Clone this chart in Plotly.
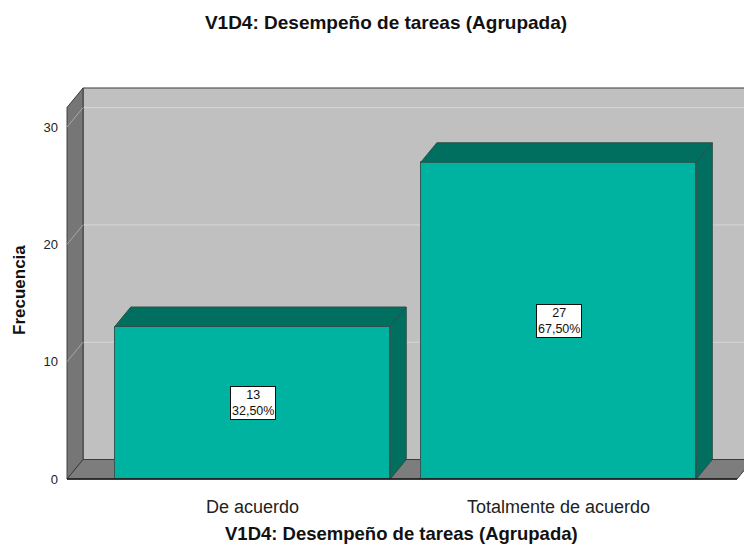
import plotly.graph_objects as go

# ---- data ----
categories = ["De acuerdo", "Totalmente de acuerdo"]
counts = [13, 27]
y_ticks = [0, 10, 20, 30]
title_text = "V1D4: Desempeño de tareas (Agrupada)"
y_title = "Frecuencia"

total = sum(counts)
pct_labels = [f"{c}<br>{c / total * 100:.2f}%".replace(".", ",") for c in counts]

# ---- styling / geometry ----
FONT = "Liberation Sans, Arial, sans-serif"
FRONT = "#00b3a0"
DARK = "#006f5f"
WALL_BACK = "#c0c0c0"
WALL_LEFT = "#767676"
FLOOR = "#7d7d7d"
EDGE = "#3c3c3c"
BAR_W = 0.9
DX = 0.0523   # depth offset in x data units
DY = 1.66     # depth offset in y data units

OFF = 8  # page body margin
W, H = 752 - OFF, 545 - OFF
ML, MR, MT, MB = 60 - OFF, 0, 84 - OFF, 60
XR = [-0.629, 1.632]
YR = [-0.51, 33.67]
X0 = -0.606          # front-left wall edge
XF = 1.583           # front-right floor edge
YTOP = 33.33         # top of back wall
XMAX = XR[1] + 0.2

xs = list(range(len(categories)))

fig = go.Figure()

# bar front faces
fig.add_trace(go.Bar(
    x=xs, y=counts, width=BAR_W,
    marker=dict(color=FRONT, line=dict(color="#2e5a54", width=1)),
    hoverinfo="skip", showlegend=False,
))

# bar top and side faces (from data)
for x, v in zip(xs, counts):
    l, r = x - BAR_W / 2, x + BAR_W / 2
    fig.add_trace(go.Scatter(
        x=[l, l + DX, r + DX, r, l], y=[v, v + DY, v + DY, v, v],
        mode="lines", fill="toself", fillcolor=DARK,
        line=dict(color="#2e4f4a", width=1), hoverinfo="skip", showlegend=False,
    ))
    fig.add_trace(go.Scatter(
        x=[r, r + DX, r + DX, r, r], y=[v, v + DY, DY, 0, v],
        mode="lines", fill="toself", fillcolor=DARK,
        line=dict(color="#2e4f4a", width=1), hoverinfo="skip", showlegend=False,
    ))

shapes = []
# back wall
shapes.append(dict(type="path", layer="below", xref="x", yref="y",
                   path=f"M {X0+DX},{DY} L {X0+DX},{YTOP} L {XMAX},{YTOP} L {XMAX},{DY} Z",
                   fillcolor=WALL_BACK, line=dict(color=EDGE, width=1)))
# back gridlines
for t in y_ticks[1:]:
    shapes.append(dict(type="line", layer="below", xref="x", yref="y",
                       x0=X0 + DX, x1=XMAX, y0=t + DY, y1=t + DY,
                       line=dict(color="#d6d6d6", width=1)))
# left wall
shapes.append(dict(type="path", layer="below", xref="x", yref="y",
                   path=f"M {X0},0 L {X0+DX},{DY} L {X0+DX},{YTOP} L {X0},{YTOP-DY} Z",
                   fillcolor=WALL_LEFT, line=dict(color=EDGE, width=1)))
for t in y_ticks[1:]:
    shapes.append(dict(type="line", layer="below", xref="x", yref="y",
                       x0=X0, x1=X0 + DX, y0=t, y1=t + DY,
                       line=dict(color="#a8a8a8", width=1)))
# floor
shapes.append(dict(type="path", layer="below", xref="x", yref="y",
                   path=f"M {X0},0 L {XF},0 L {XF+DX},{DY} L {X0+DX},{DY} Z",
                   fillcolor=FLOOR, line=dict(color=EDGE, width=1)))
# floor front edge
shapes.append(dict(type="line", layer="above", xref="x", yref="y",
                   x0=X0, x1=XF, y0=0, y1=0, line=dict(color="#1a1a1a", width=1.5)))

annotations = []
for x, v, lab in zip(xs, counts, pct_labels):
    annotations.append(dict(x=x, y=v / 2, xref="x", yref="y", text=lab, showarrow=False,
                            font=dict(family=FONT, size=12.5, color="#111"),
                            bgcolor="white", bordercolor="#111", borderwidth=1, borderpad=1))

pw = W - ML - MR
ph = H - MT - MB
annotations.append(dict(text=f"<b>{title_text}</b>", xref="paper", yref="paper",
                        x=(401 - OFF - ML) / pw, y=(H - MB - (533 - OFF)) / ph, showarrow=False,
                        xanchor="center", yanchor="middle",
                        font=dict(family=FONT, size=18.5, color="#111")))
annotations.append(dict(text=f"<b>{y_title}</b>", xref="paper", yref="paper",
                        x=(19 - OFF - ML) / pw, y=(H - MB - (290 - OFF)) / ph, showarrow=False,
                        textangle=-90, xanchor="center", yanchor="middle",
                        font=dict(family=FONT, size=17, color="#111")))

fig.update_layout(
    width=W, height=H,
    margin=dict(l=ML, r=MR, t=MT, b=MB),
    paper_bgcolor="white", plot_bgcolor="white",
    title=dict(text=f"<b>{title_text}</b>", x=(386 - OFF) / W, xanchor="center",
               y=1 - (22 - OFF) / H, yanchor="middle", yref="container",
               font=dict(family=FONT, size=19, color="#111")),
    xaxis=dict(range=XR, tickvals=xs, ticktext=categories, showgrid=False,
               zeroline=False, showline=False, ticks="", ticklabelstandoff=9,
               tickfont=dict(family=FONT, size=18, color="#222")),
    yaxis=dict(range=YR, tickvals=y_ticks, showgrid=False, zeroline=False,
               showline=False, ticks="", ticklabelstandoff=1,
               tickfont=dict(family=FONT, size=13, color="#222")),
    shapes=shapes, annotations=annotations, bargap=0,
)

fig.write_html("out.html")
